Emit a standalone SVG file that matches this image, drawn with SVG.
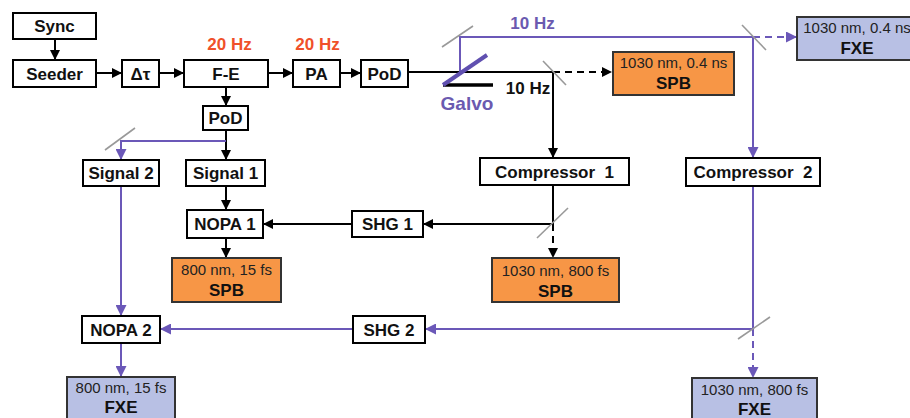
<svg xmlns="http://www.w3.org/2000/svg" width="910" height="418" viewBox="0 0 910 418">
<defs>
<style>
.box{fill:#fff;stroke:#000;stroke-width:2}
.spb{fill:#f79646;stroke:#333;stroke-width:2}
.fxe{fill:#b8c0e4;stroke:#333;stroke-width:2}
.t{font-family:"Liberation Sans",Arial,sans-serif;font-weight:bold;font-size:17px;text-anchor:middle;fill:#111}
.n{font-family:"Liberation Sans",Arial,sans-serif;font-size:15px;text-anchor:middle;fill:#222}
.red{fill:#f0502a}
.pt{fill:#6b5ab0}
.k{fill:none;stroke:#000;stroke-width:2}
.p{fill:none;stroke:#6b58b8;stroke-width:2}
.d{stroke-dasharray:7,5}
.m{stroke:#999;stroke-width:1.6;fill:none}
</style>
<marker id="ak" viewBox="0 0 10 10" refX="10" refY="5" markerWidth="10" markerHeight="10" markerUnits="userSpaceOnUse" orient="auto"><path d="M0,0 L10,5 L0,10 z" fill="#000"/></marker>
<marker id="ap" viewBox="0 0 10 10" refX="10" refY="5" markerWidth="11" markerHeight="11" markerUnits="userSpaceOnUse" orient="auto"><path d="M0,0 L10,5 L0,10 z" fill="#6b58b8"/></marker>
</defs>

<g id="connectors">
<path class="k" d="M55,39 V60" marker-end="url(#ak)"/>
<path class="k" d="M96,73 H122" marker-end="url(#ak)"/>
<path class="k" d="M159,73 H184" marker-end="url(#ak)"/>
<path class="k" d="M268,73 H293" marker-end="url(#ak)"/>
<path class="k" d="M340,73 H361" marker-end="url(#ak)"/>
<path class="k" d="M226,87 V106" marker-end="url(#ak)"/>
<path class="k" d="M226,130 V160" marker-end="url(#ak)"/>
<path class="p" d="M226,141 H121 V160" marker-end="url(#ap)"/>
<path class="k" d="M226,186 V210" marker-end="url(#ak)"/>
<path class="k" d="M226,238 V258" marker-end="url(#ak)"/>
<path class="k" d="M352,224 H263" marker-end="url(#ak)"/>
<path class="k" d="M408,72 H553 V158" marker-end="url(#ak)"/>
<path class="k d" d="M553,72 H612" marker-end="url(#ak)"/>
<path class="k" d="M553,185 V224 H423" marker-end="url(#ak)"/>
<path class="k d" d="M553,224 V258" marker-end="url(#ak)"/>
<path class="p" d="M460,72 V37 H753 V158" marker-end="url(#ap)"/>
<path class="p d" d="M753,37 H797" marker-end="url(#ap)"/>
<path class="p" d="M753,186 V329 H425" marker-end="url(#ap)"/>
<path class="p d" d="M753,329 V378" marker-end="url(#ap)"/>
<path class="p" d="M353,329 H160" marker-end="url(#ap)"/>
<path class="p" d="M121,186 V316" marker-end="url(#ap)"/>
<path class="p" d="M121,343 V377" marker-end="url(#ap)"/>
<line class="m" x1="442" y1="47" x2="473" y2="26"/>
<line class="m" x1="543" y1="61" x2="566" y2="85"/>
<line class="m" x1="742" y1="25" x2="766" y2="50"/>
<line class="m" x1="537" y1="238" x2="568" y2="208"/>
<line class="m" x1="105" y1="150" x2="135" y2="128"/>
<line class="m" x1="738" y1="339" x2="770" y2="317"/>
</g>

<g id="galvo">
<line x1="443" y1="85" x2="493" y2="85" stroke="#000" stroke-width="3.5"/>
<line x1="443" y1="85" x2="487" y2="55" stroke="#6050b0" stroke-width="4"/>
<text class="t pt" x="467" y="110" style="font-size:19px">Galvo</text>
</g>

<g id="labels">
<text class="t red" x="229.5" y="50">20 Hz</text>
<text class="t red" x="317.5" y="50">20 Hz</text>
<text class="t pt" x="532.5" y="29">10 Hz</text>
<text class="t" x="528" y="94">10 Hz</text>
</g>

<g id="sync"><rect class="box" x="13" y="13" width="83" height="26"/><text class="t" x="54.5" y="32">Sync</text></g>
<g id="seeder"><rect class="box" x="13" y="60" width="83" height="27"/><text class="t" x="54.5" y="79.5">Seeder</text></g>
<g id="delay"><rect class="box" x="122" y="60" width="37" height="27"/><text class="t" x="140.5" y="79.5">Δτ</text></g>
<g id="fe"><rect class="box" x="184" y="60" width="84" height="27"/><text class="t" x="226" y="79.5">F-E</text></g>
<g id="pa"><rect class="box" x="293" y="60" width="47" height="27"/><text class="t" x="316.5" y="79.5">PA</text></g>
<g id="pod1"><rect class="box" x="361" y="60" width="47" height="27"/><text class="t" x="384.5" y="79.5">PoD</text></g>
<g id="pod2"><rect class="box" x="203" y="106" width="45" height="24"/><text class="t" x="225.5" y="124">PoD</text></g>
<g id="signal2"><rect class="box" x="83" y="160" width="76" height="26"/><text class="t" x="121" y="179">Signal 2</text></g>
<g id="signal1"><rect class="box" x="186" y="160" width="79" height="26"/><text class="t" x="225.5" y="179">Signal 1</text></g>
<g id="comp1"><rect class="box" x="480" y="158" width="149" height="27"/><text class="t" x="554.5" y="177.5" xml:space="preserve">Compressor  1</text></g>
<g id="comp2"><rect class="box" x="686" y="158" width="134" height="28"/><text class="t" x="753" y="178" xml:space="preserve">Compressor  2</text></g>
<g id="shg1"><rect class="box" x="352" y="211" width="71" height="26"/><text class="t" x="387.5" y="230">SHG 1</text></g>
<g id="nopa1"><rect class="box" x="187" y="210" width="76" height="28"/><text class="t" x="225" y="230">NOPA 1</text></g>
<g id="spb800"><rect class="spb" x="172" y="258" width="109" height="44"/><text class="n" x="226.5" y="275">800 nm, 15 fs</text><text class="t" x="226.5" y="296">SPB</text></g>
<g id="spb1030"><rect class="spb" x="492" y="258" width="127" height="44"/><text class="n" x="555.5" y="276">1030 nm, 800 fs</text><text class="t" x="555.5" y="297">SPB</text></g>
<g id="spbtop"><rect class="spb" x="613" y="52" width="121" height="43"/><text class="n" x="673.5" y="68">1030 nm, 0.4 ns</text><text class="t" x="673.5" y="89">SPB</text></g>
<g id="fxetop"><rect class="fxe" x="797" y="17" width="120" height="43"/><text class="n" x="857" y="33">1030 nm, 0.4 ns</text><text class="t" x="857" y="54">FXE</text></g>
<g id="nopa2"><rect class="box" x="82" y="316" width="78" height="27"/><text class="t" x="121" y="335.5">NOPA 2</text></g>
<g id="shg2"><rect class="box" x="353" y="316" width="72" height="27"/><text class="t" x="389" y="335.5">SHG 2</text></g>
<g id="fxe800"><rect class="fxe" x="67" y="377" width="108" height="46"/><text class="n" x="121" y="393">800 nm, 15 fs</text><text class="t" x="121" y="413">FXE</text></g>
<g id="fxe1030"><rect class="fxe" x="692" y="378" width="125" height="46"/><text class="n" x="754.5" y="395">1030 nm, 800 fs</text><text class="t" x="754.5" y="415">FXE</text></g>
</svg>
